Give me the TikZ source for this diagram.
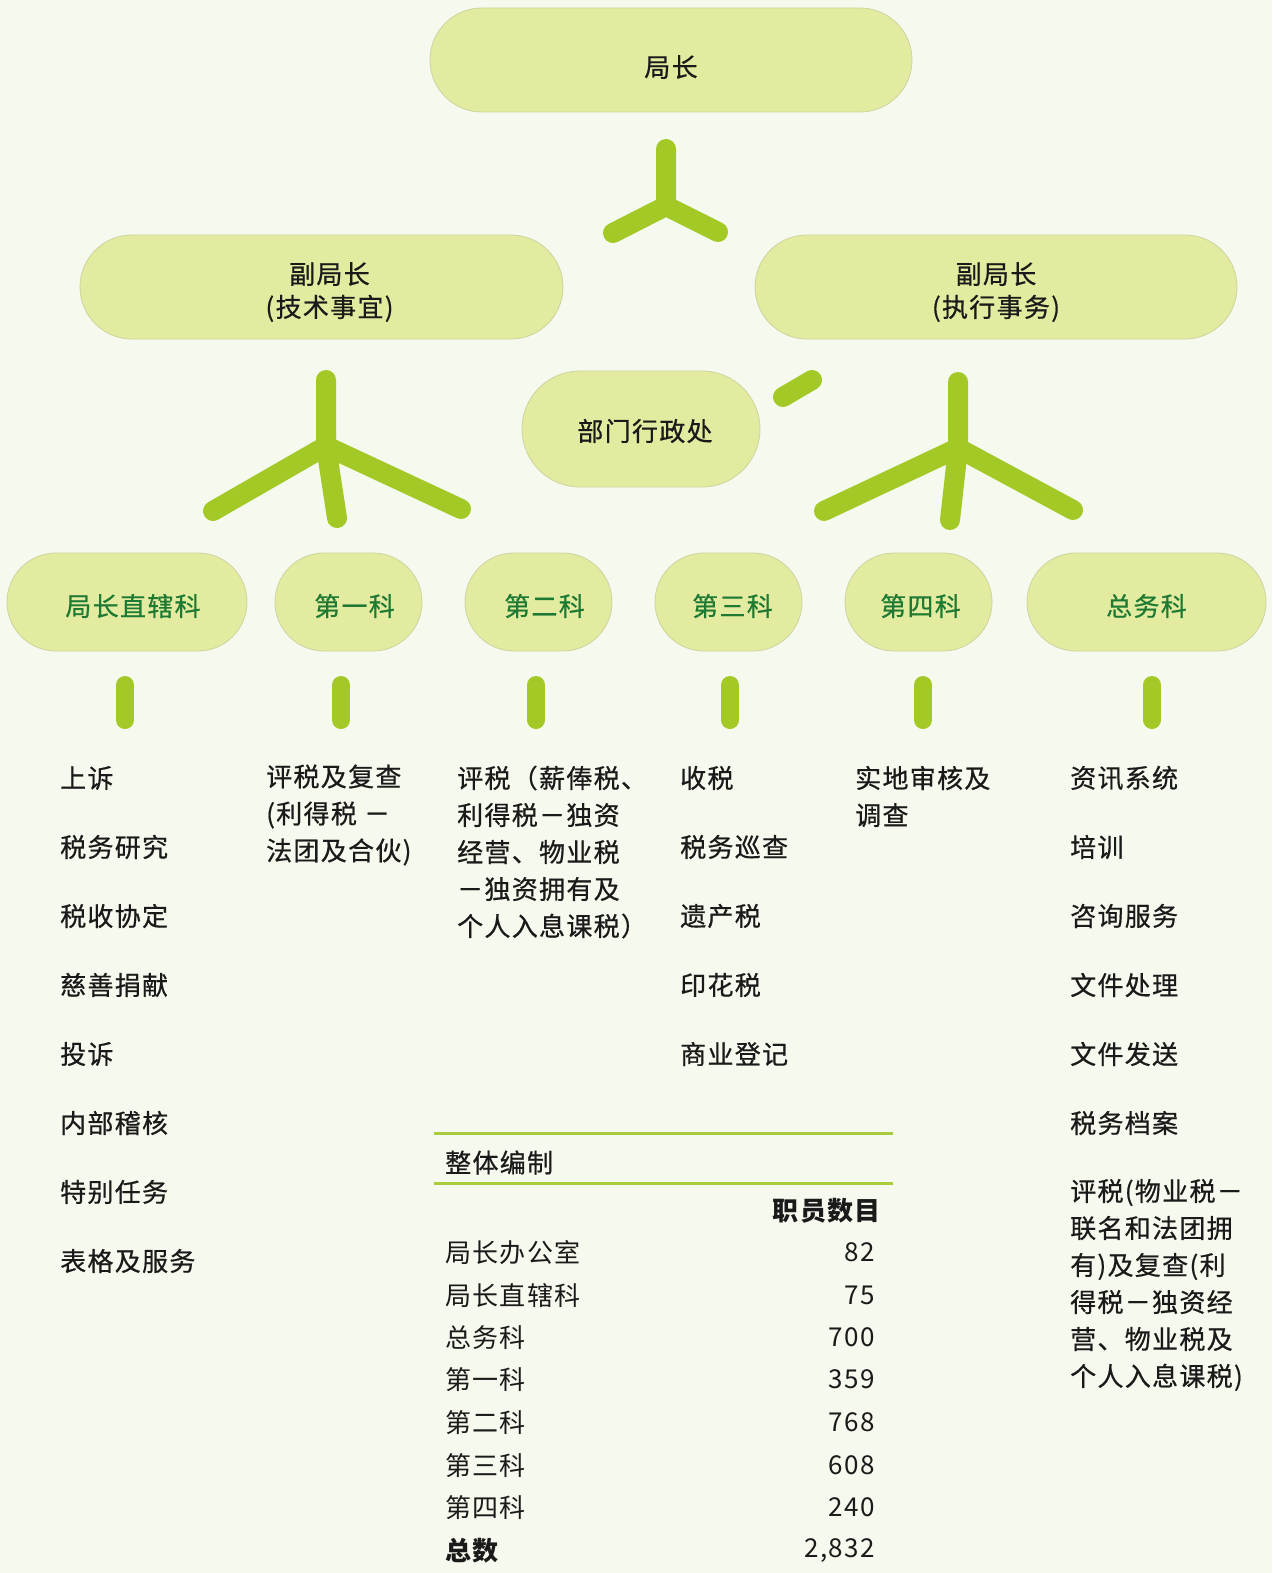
\documentclass[tikz,border=0pt]{standalone}
\usepackage{fontspec}
\setmainfont{Noto Sans CJK SC}[LetterSpace=5]
\newfontfamily\medfont{Noto Sans CJK SC}[LetterSpace=5, FakeBold=0.6]
\newcommand{\dn}[2][4pt]{\raisebox{-#1}[\height][\depth]{#2}}
\definecolor{bg}{HTML}{F6F9ED}
\definecolor{boxfill}{HTML}{E2EB9F}
\definecolor{boxline}{HTML}{CDD49F}
\definecolor{conn}{HTML}{A3C927}
\definecolor{depttext}{HTML}{1E7A33}
\definecolor{ink}{HTML}{1A1A1A}
\definecolor{rule}{HTML}{A8CC3C}
\begin{document}
\begin{tikzpicture}[x=1pt,y=-1pt,
  pill/.style={draw=boxline, line width=0.8pt, fill=boxfill, rounded corners=#1, inner sep=0pt, font=\medfont\fontsize{26}{33}\selectfont, text=ink, align=center},
  dept/.style={pill=49pt, minimum height=98pt, text=depttext},
  yconn/.style={draw=conn, line width=20pt, line cap=round, line join=round},
  bar/.style={draw=conn, line width=18pt, line cap=round},
  item/.style={anchor=west, inner sep=0pt, yshift=-3pt, font=\medfont\fontsize{26}{37}\selectfont, text=ink, align=left},
  trow/.style={anchor=west, inner sep=0pt, yshift=-3.5pt, font=\fontsize{26}{30}\selectfont, text=ink},
  tnum/.style={anchor=east, inner sep=0pt, yshift=-3.5pt, font=\fontsize{26}{30}\selectfont, text=ink}]
\useasboundingbox (0,0) rectangle (1272,1573);
\fill[bg] (0,0) rectangle (1272,1573);

% top level boxes
\node[pill=52pt, minimum width=482pt, minimum height=104pt] (dir) at (671,60) {\dn[7pt]{局长}};
\node[pill=52pt, minimum width=483pt, minimum height=104pt] (vpl) at (321.5,287) {\hspace*{16pt}\dn[5pt]{副局长}\\\hspace*{16pt}\dn[5pt]{(技术事宜)}};
\node[pill=52pt, minimum width=482pt, minimum height=104pt] (vpr) at (996,287) {\dn[5pt]{副局长}\\\dn[5pt]{(执行事务)}};
\node[pill=58pt, minimum width=238pt, minimum height=116pt] (admin) at (641,429) {\hspace*{8pt}\dn[2pt]{部门行政处}};

% departments
\node[dept, minimum width=240pt] (d0) at (127,602) {\hspace*{12pt}\dn{局长直辖科}};
\node[dept, minimum width=147pt] (d1) at (348.5,602) {\hspace*{12pt}\dn{第一科}};
\node[dept, minimum width=147pt] (d2) at (538.5,602) {\hspace*{12pt}\dn{第二科}};
\node[dept, minimum width=147pt] (d3) at (728.5,602) {\hspace*{8pt}\dn{第三科}};
\node[dept, minimum width=147pt] (d4) at (918.5,602) {\hspace*{4pt}\dn{第四科}};
\node[dept, minimum width=239pt] (d5) at (1146.5,602) {\dn{总务科}};

% top Y connector
\coordinate (ta) at (666,149);
\coordinate (tj) at (666,206);
\coordinate (tl) at (613,233);
\coordinate (tr) at (718,232);
\draw[yconn] (ta) -- (tj) -- (tl);
\draw[yconn] (tj) -- (tr);

% left Y connector
\coordinate (la) at (326,380);
\coordinate (lj) at (326,446);
\coordinate (ll) at (213,511);
\coordinate (lr) at (461,509);
\coordinate (ld) at (337,518);
\draw[yconn] (la) -- (lj) -- (ll);
\draw[yconn] (lj) -- (lr);
\draw[yconn] (lj) -- (ld);

% right Y connector
\coordinate (ra) at (958,382);
\coordinate (rj) at (958,448);
\coordinate (rl) at (824,511);
\coordinate (rr) at (1073,510);
\coordinate (rd) at (950,520);
\draw[yconn] (ra) -- (rj) -- (rl);
\draw[yconn] (rj) -- (rr);
\draw[yconn] (rj) -- (rd);

% short stroke next to admin
\coordinate (sa) at (783,397);
\coordinate (sb) at (812,380);
\draw[yconn] (sa) -- (sb);

% small bars under departments
\foreach \x/\n in {125/b0,341/b1,536/b2,730/b3,923/b4,1152/b5}{
  \coordinate (\n t) at (\x,685);
  \coordinate (\n b) at (\x,720);
  \draw[bar] (\n t) -- (\n b);
}

% column 0
\node[item] (c0a) at (60,775) {上诉};
\node[item] (c0b) at (60,844) {税务研究};
\node[item] (c0c) at (60,913) {税收协定};
\node[item] (c0d) at (60,982) {慈善捐献};
\node[item] (c0e) at (60,1051) {投诉};
\node[item] (c0f) at (60,1120) {内部稽核};
\node[item] (c0g) at (60,1189) {特别任务};
\node[item] (c0h) at (60,1258) {表格及服务};

% column 1
\node[item] (c1a) at (266,812) {评税及复查\\(利得税 －\\法团及合伙)};

% column 2
\node[item] (c2a) at (457,849) {评税（薪俸税、\\利得税－独资\\经营、物业税\\－独资拥有及\\个人入息课税）};

% column 3
\node[item] (c3a) at (680,775) {收税};
\node[item] (c3b) at (680,844) {税务巡查};
\node[item] (c3c) at (680,913) {遗产税};
\node[item] (c3d) at (680,982) {印花税};
\node[item] (c3e) at (680,1051) {商业登记};

% column 4
\node[item] (c4a) at (855,793.5) {实地审核及\\调查};

% column 5
\node[item] (c5a) at (1070,775) {资讯系统};
\node[item] (c5b) at (1070,844) {培训};
\node[item] (c5c) at (1070,913) {咨询服务};
\node[item] (c5d) at (1070,982) {文件处理};
\node[item] (c5e) at (1070,1051) {文件发送};
\node[item] (c5f) at (1070,1120) {税务档案};
\node[item] (c5g) at (1070,1282) {评税(物业税－\\联名和法团拥\\有)及复查(利\\得税－独资经\\营、物业税及\\个人入息课税)};

% table
\coordinate (r1a) at (434,1133);
\coordinate (r1b) at (893,1133);
\coordinate (r2a) at (434,1183);
\coordinate (r2b) at (893,1183);
\draw[rule, line width=3pt] (r1a) -- (r1b);
\draw[rule, line width=3pt] (r2a) -- (r2b);
\node[trow, font=\medfont\fontsize{26}{30}\selectfont] (th) at (445,1159) {整体编制};
\node[tnum, font=\fontsize{26}{30}\selectfont\bfseries] (tc) at (881,1207) {职员数目};
\foreach \y/\a/\b/\n in {1249/局长办公室/82/t1,1292/局长直辖科/75/t2,1334/总务科/700/t3,1376/第一科/359/t4,1419/第二科/768/t5,1462/第三科/608/t6,1504/第四科/240/t7}{
  \node[trow] (\n l) at (445,\y) {\a};
  \node[tnum] (\n r) at (875,\y) {\b};
}
\node[trow, font=\fontsize{26}{30}\selectfont\bfseries] (t8l) at (445,1547) {总数};
\node[tnum] (t8r) at (875,1547) {2,832};
\end{tikzpicture}
\end{document}
